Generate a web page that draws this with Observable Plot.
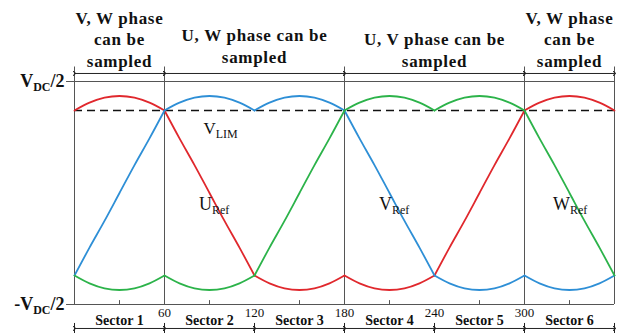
<!DOCTYPE html>
<html><head><meta charset="utf-8">
<script src="https://cdn.jsdelivr.net/npm/d3@7"></script>
<script src="https://cdn.jsdelivr.net/npm/@observablehq/plot@0.6"></script>
<style>body{margin:0;background:#fff}</style></head>
<body><div id="chart"></div>
<script>
// electrical angle (degrees)
const angles = [0,10,20,30,40,50,60,70,80,90,100,110,120,130,140,150,160,170,180,190,200,210,220,230,240,250,260,270,280,290,300,310,320,330,340,350,360];
// reference voltages, in units of VDC/2
const uRef = [0.74,0.81,0.855,0.87,0.855,0.81,0.74, 0.49,0.25,0,-0.25,-0.49,-0.74, -0.81,-0.855,-0.87,-0.855,-0.81,-0.74, -0.81,-0.855,-0.87,-0.855,-0.81,-0.74, -0.49,-0.25,0,0.25,0.49,0.74, 0.81,0.855,0.87,0.855,0.81,0.74];
const vRef = [-0.74,-0.49,-0.25,0,0.25,0.49,0.74, 0.81,0.855,0.87,0.855,0.81,0.74, 0.81,0.855,0.87,0.855,0.81,0.74, 0.49,0.25,0,-0.25,-0.49,-0.74, -0.81,-0.855,-0.87,-0.855,-0.81,-0.74, -0.81,-0.855,-0.87,-0.855,-0.81,-0.74];
const wRef = [-0.74,-0.81,-0.855,-0.87,-0.855,-0.81,-0.74, -0.81,-0.855,-0.87,-0.855,-0.81,-0.74, -0.49,-0.25,0,0.25,0.49,0.74, 0.81,0.855,0.87,0.855,0.81,0.74, 0.81,0.855,0.87,0.855,0.81,0.74, 0.49,0.25,0,-0.25,-0.49,-0.74];
const phaseNames = ["U","V","W"];
const phaseColors = ["#e0282d","#2e8fd6","#2cb34a"];
const vLim = 0.74;
const sectorEdges = [0,60,120,180,240,300,360];
const sectorNames = ["Sector 1","Sector 2","Sector 3","Sector 4","Sector 5","Sector 6"];
const tickLabels = ["60","120","180","240","300"];
const midTicks = [30,90,150,210,270,330];
const fullLines = [0,60,180,300,360];
const sampleFrom = [0,60,180,300];
const sampleTo = [60,180,300,360];
const sampleLabels = ["V, W phase\ncan be\nsampled","U, W phase can be\nsampled","U, V phase can be\nsampled","V, W phase\ncan be\nsampled"];
const refLabels = ["U_{Ref}","V_{Ref}","W_{Ref}"];

const rows = [];
[uRef, vRef, wRef].forEach((vals, p) => {
  for (let k = 0; k < 6; k++)
    for (let i = 6 * k; i <= 6 * k + 6; i++)
      rows.push({angle: angles[i], v: vals[i], phase: phaseNames[p], seg: p * 6 + k});
});

const gray = "#555";
const topText = {x: (d, i) => (sampleFrom[i] + sampleTo[i]) / 2, y: 1.13, lineAnchor: "bottom", lineHeight: 1.27, fontSize: 17, fontWeight: "bold", fill: "#111"};
const chart = Plot.plot({
  width: 636, height: 334,
  marginLeft: 74, marginRight: 22, marginTop: 81, marginBottom: 30,
  x: {domain: [0, 360], axis: null},
  y: {domain: [-1, 1], axis: null},
  color: {domain: phaseNames, range: phaseColors},
  style: {fontFamily: "'Times New Roman', 'Liberation Serif', Times, serif", background: "#fff", color: "#111", overflow: "visible"},
  marks: [
    Plot.ruleY([1, -1], {x1: -5.3, x2: 360, stroke: gray}),
    Plot.ruleX(fullLines, {y1: -1, y2: 1.13, stroke: gray}),
    Plot.ruleX(midTicks, {y1: -1, y2: -0.965, stroke: gray}),
    Plot.ruleY([vLim], {x1: 0, x2: 360, stroke: "#111", strokeWidth: 1.3, strokeDasharray: "8,5"}),
    Plot.line(rows, {x: "angle", y: "v", z: "seg", stroke: "phase", strokeWidth: 1.8, curve: "catmull-rom"}),
    // bottom axis labels
    Plot.text(tickLabels, {x: d => +d, y: -1.075, fontSize: 13, fill: "#111"}),
    Plot.text(sectorNames, {x: (d, i) => (sectorEdges[i] + sectorEdges[i + 1]) / 2, y: -1.14, fontSize: 14, fontWeight: "bold", fill: "#111"}),
    Plot.link(sectorNames, {x1: (d, i) => sectorEdges[i], x2: (d, i) => sectorEdges[i + 1], y1: -1.215, y2: -1.215, stroke: "#222", marker: "arrow"}),
    Plot.ruleX(sectorEdges, {y1: -1.17, y2: -1.26, stroke: "#222"}),
    // top dimension lines
    Plot.link(sampleLabels, {x1: (d, i) => sampleFrom[i], x2: (d, i) => sampleTo[i], y1: 1.072, y2: 1.072, stroke: "#222", marker: "arrow"}),
    Plot.text(sampleLabels, {...topText, filter: (d, i) => i !== 1}),
    Plot.text(sampleLabels, {...topText, filter: (d, i) => i === 1, dy: -4}),
    // y labels
    Plot.text(["V_{DC}/2"], {x: 0, y: 1, dx: -10, textAnchor: "end", fontSize: 18, fontWeight: "bold", fill: "#111"}),
    Plot.text(["-V_{DC}/2"], {x: 0, y: -1, dx: -10, textAnchor: "end", fontSize: 18, fontWeight: "bold", fill: "#111"}),
    // in-plot labels
    Plot.text(["V_{LIM}"], {x: 86, y: 0.58, textAnchor: "start", fontSize: 17, fill: "#111"}),
    Plot.text(refLabels, {x: (d, i) => [83, 203, 319][i], y: -0.1, textAnchor: "start", fontSize: 18, fill: "#111"})
  ]
});

// letter spacing for the wide top headings
chart.querySelectorAll("text").forEach(t => {
  if (/phase|sampled/.test(t.textContent)) t.setAttribute("letter-spacing", "0.7");
});
// turn "_{...}" into subscripts
chart.querySelectorAll("text").forEach(t => {
  const s = t.textContent;
  const m = s.match(/^(.*?)_\{(.*?)\}(.*)$/);
  if (!m || t.children.length) return;
  const fs = parseFloat(t.getAttribute("font-size") || getComputedStyle(t).fontSize) || 17;
  t.textContent = "";
  const ns = "http://www.w3.org/2000/svg";
  const a = document.createElementNS(ns, "tspan"); a.textContent = m[1];
  const b = document.createElementNS(ns, "tspan"); b.textContent = m[2];
  b.setAttribute("font-size", Math.round(fs * 0.72)); b.setAttribute("dy", Math.round(fs * 0.25));
  t.append(a, b);
  if (m[3]) { const c = document.createElementNS(ns, "tspan"); c.textContent = m[3]; c.setAttribute("dy", -Math.round(fs * 0.25)); t.append(c); }
});
document.getElementById("chart").append(chart);
</script>
</body></html>
